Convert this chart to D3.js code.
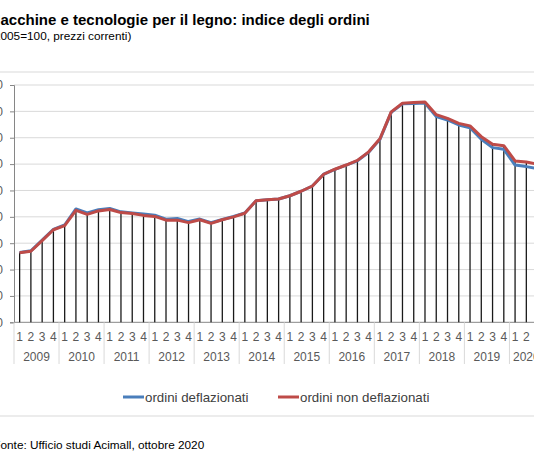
<!DOCTYPE html>
<html>
<head>
<meta charset="utf-8">
<script src="https://cdn.jsdelivr.net/npm/d3@7"></script>
<style>
  html, body { margin: 0; padding: 0; background: #fff; overflow: hidden; }
  svg { display: block; font-family: "Liberation Sans", Arial, sans-serif; }
</style>
</head>
<body>
<div id="chart"></div>
<script>
// years and number of quarters shown for each
const years = ["2009","2010","2011","2012","2013","2014","2015","2016","2017","2018","2019","2020"];
const quartersPerYear = [4,4,4,4,4,4,4,4,4,4,4,3];
const quarterLabels = ["1","2","3","4"];

// ordini deflazionati (blue)
const deflazionati = [
  53.0, 54.2, 62.3, 70.5,
  73.8, 86.0, 82.9, 85.4,
  86.4, 83.8, 83.0, 82.1,
  81.3, 78.2, 78.7, 76.4,
  78.3, 75.5, 78.0, 80.3,
  82.9, 92.2, 93.0, 93.5,
  96.0, 99.4, 103.4, 112.3,
  116.0, 119.2, 122.5, 129.0,
  138.8, 159.2, 165.7, 166.0,
  166.3, 156.0, 153.5, 149.7,
  147.6, 138.8, 132.5, 131.2,
  119.3, 118.1, 116.6
];
// ordini non deflazionati (red)
const nonDeflazionati = [
  52.8, 53.9, 61.9, 70.2,
  73.4, 84.9, 81.9, 84.5,
  85.6, 83.2, 82.6, 81.1,
  80.3, 77.5, 77.5, 75.6,
  77.8, 75.0, 77.8, 80.0,
  82.7, 92.2, 93.0, 93.5,
  96.0, 99.4, 103.4, 112.3,
  116.1, 119.3, 122.8, 129.3,
  139.2, 159.6, 166.2, 166.8,
  167.1, 157.5, 154.7, 150.9,
  149.0, 140.8, 135.0, 134.0,
  122.4, 121.6, 120.0
];
const yTicks = [0,20,40,60,80,100,120,140,160,180];

const W = 534, H = 462;
const svg = d3.select("#chart").append("svg").attr("width", W).attr("height", H);

// build quarter keys
const keys = [];
years.forEach((yr, i) => {
  for (let q = 0; q < quartersPerYear[i]; q++) keys.push({ key: yr + "Q" + (q + 1), year: yr, q: quarterLabels[q] });
});

const slot = 11.26;
const left = 14;
const x = d3.scaleBand().domain(keys.map(d => d.key)).range([left, left + keys.length * slot]).padding(0);
const y = d3.scaleLinear().domain([0, 180]).range([322.3, 85]);
const cx = k => x(k) + x.bandwidth() / 2;

// frame lines
svg.append("line").attr("x1", 0).attr("x2", W).attr("y1", 72).attr("y2", 72).attr("stroke", "#d9d9d9");
svg.append("line").attr("x1", 0).attr("x2", W).attr("y1", 416).attr("y2", 416).attr("stroke", "#d9d9d9");

// title (left part cropped like the source image)
const title = svg.append("text").attr("y", 25).attr("font-size", 15).attr("font-weight", "bold").attr("fill", "#000");
title.text("M");
const mW = title.node().getComputedTextLength();
title.text("Macchine e tecnologie per il legno: indice degli ordini").attr("x", -mW + 0.5);

const sub = svg.append("text").attr("y", 40).attr("font-size", 11.8).attr("fill", "#000");
sub.text("(2");
const sW = sub.node().getComputedTextLength();
sub.text("(2005=100, prezzi correnti)").attr("x", -sW + 0.5);

// grid
svg.append("g").selectAll("line").data(yTicks.slice(1)).join("line")
  .attr("x1", left).attr("x2", W)
  .attr("y1", d => y(d)).attr("y2", d => y(d))
  .attr("stroke", "#d9d9d9").attr("stroke-width", 1);

// y axis
const yAxis = svg.append("g").attr("transform", `translate(${left},0)`)
  .call(d3.axisLeft(y).tickValues(yTicks).tickSize(4).tickPadding(7));
yAxis.select(".domain").attr("stroke", "#868686");
yAxis.selectAll(".tick line").attr("stroke", "#868686");
yAxis.selectAll(".tick text").attr("font-size", 12).attr("fill", "#595959").attr("font-family", "Liberation Sans, Arial, sans-serif");

// x axis line
svg.append("line").attr("x1", left).attr("x2", W).attr("y1", y(0)).attr("y2", y(0)).attr("stroke", "#868686");

// year separators
let start = 0;
const yearGroups = years.map((yr, i) => {
  const g = { year: yr, first: keys[start].key, last: keys[start + quartersPerYear[i] - 1].key };
  start += quartersPerYear[i];
  return g;
});
svg.append("g").selectAll("line").data(yearGroups).join("line")
  .attr("x1", d => x(d.first)).attr("x2", d => x(d.first))
  .attr("y1", y(0)).attr("y2", 364)
  .attr("stroke", "#d9d9d9");

// quarter labels
svg.append("g").selectAll("text").data(keys).join("text")
  .attr("x", d => cx(d.key)).attr("y", 340.5)
  .attr("text-anchor", "middle").attr("font-size", 12).attr("fill", "#595959")
  .text(d => d.q);

// year labels
svg.append("g").selectAll("text").data(yearGroups).join("text")
  .attr("x", d => (x(d.first) + x(d.last) + x.bandwidth()) / 2).attr("y", 361)
  .attr("text-anchor", "middle").attr("font-size", 12).attr("fill", "#595959")
  .text(d => d.year);

// drop lines
svg.append("g").selectAll("line").data(keys).join("line")
  .attr("x1", d => cx(d.key)).attr("x2", d => cx(d.key))
  .attr("y1", (d, i) => y(Math.max(deflazionati[i], nonDeflazionati[i])))
  .attr("y2", y(0))
  .attr("stroke", "#1a1a1a").attr("stroke-width", 1.3);

// series lines
const line = d3.line().x((d, i) => cx(keys[i].key)).y(d => y(d));
svg.append("path").datum(deflazionati).attr("d", line)
  .attr("fill", "none").attr("stroke", "#4a7ebb").attr("stroke-width", 3).attr("stroke-linejoin", "round");
svg.append("path").datum(nonDeflazionati).attr("d", line)
  .attr("fill", "none").attr("stroke", "#be4b48").attr("stroke-width", 3).attr("stroke-linejoin", "round");

// legend
const legend = [
  { label: "ordini deflazionati", color: "#4a7ebb", x: 123 },
  { label: "ordini non deflazionati", color: "#be4b48", x: 278 }
];
const lg = svg.append("g").selectAll("g").data(legend).join("g")
  .attr("transform", d => `translate(${d.x},397)`);
lg.append("line").attr("x1", 0).attr("x2", 21).attr("stroke", d => d.color).attr("stroke-width", 3);
lg.append("text").attr("x", 22).attr("y", 4.5).attr("font-size", 13.3).attr("fill", "#404040").text(d => d.label);

// footer
const foot = svg.append("text").attr("y", 449).attr("font-size", 11.8).attr("fill", "#000");
foot.text("F");
const fW = foot.node().getComputedTextLength();
foot.text("Fonte: Ufficio studi Acimall, ottobre 2020").attr("x", -fW + 0.5);
</script>
</body>
</html>
